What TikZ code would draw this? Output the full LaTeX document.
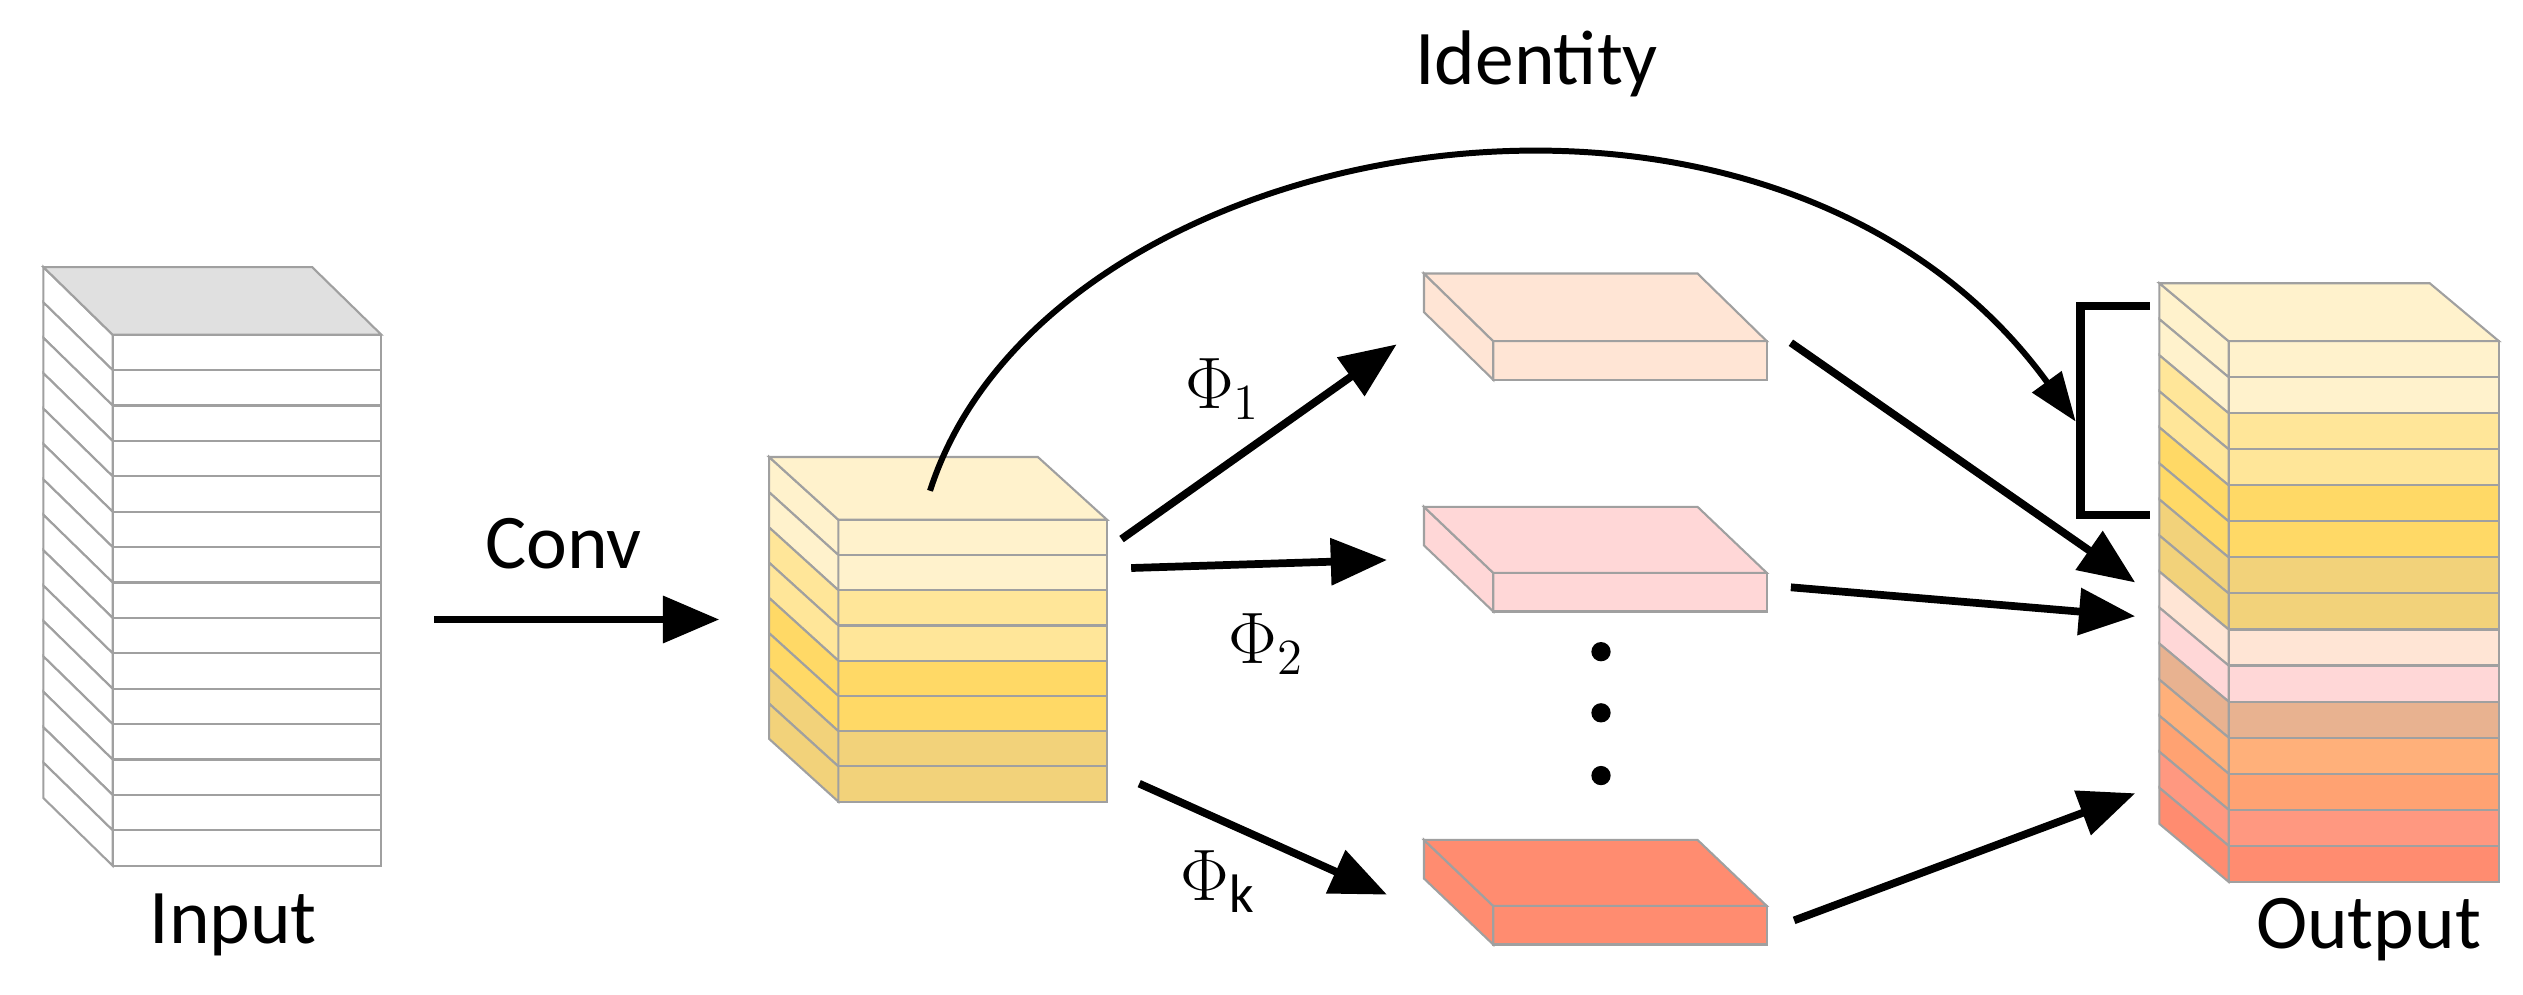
\documentclass[tikz,border=0pt]{standalone}
\usepackage{fontspec}
\setmainfont{Carlito}
\usetikzlibrary{arrows.meta}
\definecolor{cA}{HTML}{FFF2CC}
\definecolor{cB}{HTML}{FFE699}
\definecolor{cC}{HTML}{FFD966}
\definecolor{cD}{HTML}{F2D27A}
\definecolor{cE}{HTML}{FFE5D5}
\definecolor{cF}{HTML}{FFD7D7}
\definecolor{cG}{HTML}{E8B290}
\definecolor{cH}{HTML}{FFB07A}
\definecolor{cI}{HTML}{FFA272}
\definecolor{cJ}{HTML}{FF9880}
\definecolor{cK}{HTML}{FF8C70}
\definecolor{edge}{HTML}{A0A0A0}
\newcommand\drawstack[8]{% x0 y0 w h dx dy topcolor colors
  \foreach \c [count=\i from 0] in {#8}{
    \fill[\c,draw=edge,line width=0.6pt] (#1,{#2+\i*#4}) rectangle ({#1+#3},{#2+(\i+1)*#4});
    \fill[\c,draw=edge,line width=0.6pt] ({#1-#5},{#2+\i*#4-#6}) -- (#1,{#2+\i*#4}) -- (#1,{#2+(\i+1)*#4}) -- ({#1-#5},{#2+(\i+1)*#4-#6}) -- cycle;
  }
  \fill[#7,draw=edge,line width=0.6pt] ({#1-#5},{#2-#6}) -- ({#1+#3-#5},{#2-#6}) -- ({#1+#3},#2) -- (#1,#2) -- cycle;
}
\tikzset{
  arr/.style={line width=2.2pt,-{Triangle[length=16pt,width=13pt]}},
  lbl/.style={font=\fontsize{22}{26}\selectfont},
}
\begin{document}
\begin{tikzpicture}[x=0.01609cm,y=-0.01609cm]
\useasboundingbox (0,0) rectangle (1568,618);
\drawstack{70}{208}{167}{22}{43}{42}{black!12}{white,white,white,white,white,white,white,white,white,white,white,white,white,white,white}
\drawstack{521}{323}{167}{21.9}{43}{39}{cA}{cA,cA,cB,cB,cC,cC,cD,cD}
\drawstack{1385}{212}{168}{22.4}{43}{36}{cA}{cA,cA,cB,cB,cC,cC,cD,cD,cE,cF,cG,cH,cI,cJ,cK}
\drawstack{928}{212}{170}{24}{43}{42}{cE}{cE}
\drawstack{928}{356}{170}{24}{43}{41}{cF}{cF}
\drawstack{928}{563}{170}{24}{43}{41}{cK}{cK}

\node[lbl] (tin) at (145,575) {Input};
\node[lbl] (tconv) at (350,338) {Conv};
\node[lbl] (tid) at (955,40) {Identity};
\node[lbl] (tout) at (1472,578) {Output};
\node[lbl] (p1) at (760,242) {$\Phi_1$};
\node[lbl] (p2) at (787,400) {$\Phi_2$};
\node[lbl] (pk) at (757,548) {$\Phi_{\mathrm{k}}$};
\foreach \yy [count=\k] in {405,443,482} \fill (995,\yy) circle[radius=6] node (d\k) {};

\coordinate (c1) at (270,385); \coordinate (c2) at (447,385);
\coordinate (m0) at (578,305); \coordinate (br) at (1290,262);
\coordinate (m1) at (697,335); \coordinate (s1) at (868,214);
\coordinate (m2) at (703,353); \coordinate (s2) at (862,348);
\coordinate (m3) at (708,487); \coordinate (s3) at (862,556);
\coordinate (o1a) at (1113,213); \coordinate (o1b) at (1327,362);
\coordinate (o2a) at (1113,365); \coordinate (o2b) at (1327,383);
\coordinate (o3a) at (1115,572); \coordinate (o3b) at (1327,493);
\draw[arr] (c1) -- (c2);
\draw[line width=1.7pt,-{Triangle[length=14pt,width=10pt]}] (m0) .. controls (650,80) and (1100,0) .. (br);
\draw[arr] (m1) -- (s1);
\draw[arr] (m2) -- (s2);
\draw[arr] (m3) -- (s3);
\draw[arr] (o1a) -- (o1b);
\draw[arr] (o2a) -- (o2b);
\draw[arr] (o3a) -- (o3b);
\coordinate (bt) at (1336,190); \coordinate (bb) at (1336,320);
\draw[line width=2.4pt] (bt) -- (1293,190) -- (1293,320) -- (bb);
\end{tikzpicture}
\end{document}
